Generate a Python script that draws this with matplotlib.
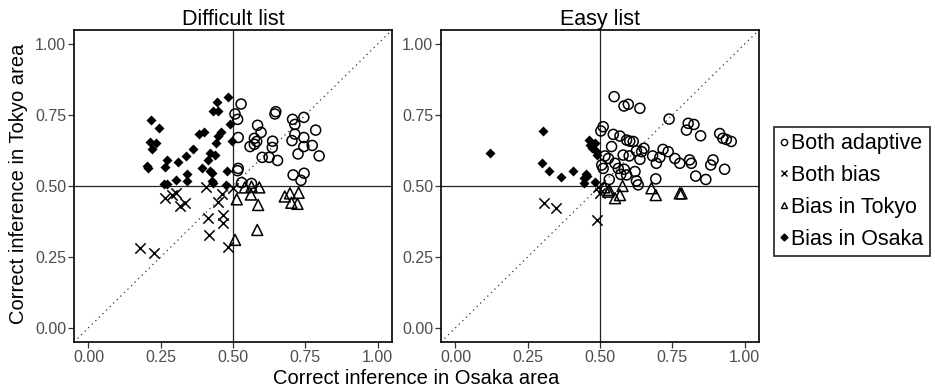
import numpy as np
import matplotlib
matplotlib.use("Agg")
import matplotlib.pyplot as plt
from matplotlib.lines import Line2D

plt.rcParams['font.family'] = ['Liberation Sans', 'DejaVu Sans']

# ---- Difficult list ----
diff_adapt_x = [0.528, 0.507, 0.516, 0.648, 0.645, 0.706, 0.745, 0.714, 0.585, 0.597, 0.786, 0.714,
                0.745, 0.518, 0.574, 0.582, 0.637, 0.704, 0.559, 0.574, 0.636, 0.745, 0.774, 0.725,
                0.798, 0.601, 0.625, 0.654, 0.518, 0.516, 0.708, 0.746, 0.735, 0.530, 0.564]
diff_adapt_y = [0.789, 0.754, 0.735, 0.762, 0.754, 0.735, 0.742, 0.717, 0.714, 0.689, 0.697, 0.683,
                0.671, 0.671, 0.668, 0.657, 0.658, 0.660, 0.639, 0.647, 0.636, 0.639, 0.643, 0.613,
                0.606, 0.601, 0.601, 0.590, 0.562, 0.554, 0.539, 0.545, 0.520, 0.512, 0.509]

diff_both_x = [0.179, 0.228, 0.266, 0.303, 0.290, 0.315, 0.334, 0.407, 0.461, 0.449, 0.415,
               0.464, 0.467, 0.418, 0.482, 0.499]
diff_both_y = [0.281, 0.263, 0.457, 0.476, 0.468, 0.428, 0.441, 0.498, 0.472, 0.445, 0.386,
               0.398, 0.371, 0.328, 0.286, 0.492]

diff_tokyo_x = [0.541, 0.564, 0.591, 0.562, 0.513, 0.587, 0.584, 0.507, 0.679, 0.697, 0.727,
                0.702, 0.723]
diff_tokyo_y = [0.495, 0.498, 0.495, 0.470, 0.453, 0.433, 0.345, 0.310, 0.463, 0.474, 0.476,
                0.441, 0.437]

diff_osaka_x = [0.217, 0.244, 0.214, 0.234, 0.220, 0.204, 0.206, 0.271, 0.266, 0.309, 0.338,
                0.363, 0.382, 0.398, 0.263, 0.272, 0.302, 0.340, 0.342, 0.392, 0.413, 0.482,
                0.444, 0.432, 0.449, 0.490, 0.458, 0.449, 0.440, 0.495, 0.421, 0.438, 0.421,
                0.427, 0.478, 0.427, 0.430, 0.476]
diff_osaka_y = [0.732, 0.705, 0.654, 0.650, 0.630, 0.571, 0.565, 0.592, 0.568, 0.583, 0.606,
                0.629, 0.682, 0.689, 0.507, 0.507, 0.521, 0.541, 0.518, 0.562, 0.590, 0.815,
                0.797, 0.765, 0.765, 0.717, 0.689, 0.675, 0.651, 0.657, 0.615, 0.609, 0.554,
                0.545, 0.554, 0.516, 0.509, 0.504]

# ---- Easy list ----
easy_adapt_x = [0.549, 0.583, 0.598, 0.638, 0.739, 0.805, 0.825, 0.799, 0.848, 0.914, 0.925,
                0.937, 0.954, 0.511, 0.503, 0.546, 0.569, 0.592, 0.603, 0.615, 0.540, 0.652,
                0.626, 0.644, 0.718, 0.736, 0.517, 0.529, 0.580, 0.601, 0.682, 0.707, 0.638,
                0.759, 0.776, 0.810, 0.816, 0.695, 0.891, 0.883, 0.552, 0.563, 0.511, 0.584,
                0.572, 0.592, 0.621, 0.931, 0.831, 0.866, 0.532, 0.626, 0.632, 0.693, 0.506]
easy_adapt_y = [0.815, 0.782, 0.788, 0.774, 0.736, 0.721, 0.717, 0.697, 0.677, 0.685, 0.668,
                0.664, 0.657, 0.709, 0.694, 0.682, 0.676, 0.662, 0.658, 0.657, 0.639, 0.633,
                0.624, 0.621, 0.629, 0.621, 0.606, 0.597, 0.609, 0.606, 0.606, 0.601, 0.594,
                0.597, 0.580, 0.592, 0.580, 0.580, 0.592, 0.574, 0.580, 0.562, 0.562, 0.559,
                0.541, 0.539, 0.551, 0.559, 0.535, 0.523, 0.523, 0.518, 0.504, 0.525, 0.574]

easy_both_x = [0.305, 0.347, 0.491, 0.500, 0.494]
easy_both_y = [0.441, 0.421, 0.380, 0.474, 0.498]

easy_tokyo_x = [0.532, 0.578, 0.678, 0.693, 0.776, 0.782, 0.552, 0.569, 0.529, 0.515]
easy_tokyo_y = [0.486, 0.500, 0.492, 0.468, 0.474, 0.474, 0.457, 0.468, 0.480, 0.495]

easy_osaka_x = [0.118, 0.302, 0.299, 0.324, 0.366, 0.408, 0.451, 0.446, 0.462, 0.466, 0.471,
                0.486, 0.489, 0.483, 0.443, 0.483, 0.455]
easy_osaka_y = [0.617, 0.695, 0.580, 0.553, 0.533, 0.553, 0.542, 0.527, 0.662, 0.644, 0.633,
                0.624, 0.609, 0.515, 0.512, 0.650, 0.535]

ticks = [0.0, 0.25, 0.5, 0.75, 1.0]
tick_labels = ["0.00", "0.25", "0.50", "0.75", "1.00"]
legend_labels = ["Both adaptive", "Both bias", "Bias in Tokyo", "Bias in Osaka"]
lims = (-0.05, 1.05)


def draw_panel(ax, title, ad, bb, tk, os_):
    ax.axhline(0.5, color='#222222', lw=0.9, zorder=1)
    ax.axvline(0.5, color='#222222', lw=0.9, zorder=1)
    ax.plot(lims, lims, color='#333333', lw=0.9, ls=(0, (1, 3)), zorder=1)
    ax.scatter(ad[0], ad[1], s=52, facecolors='none', edgecolors='black', linewidths=1.1, marker='o', zorder=3)
    ax.scatter(bb[0], bb[1], s=55, color='black', linewidths=1.1, marker='x', zorder=3)
    ax.scatter(tk[0], tk[1], s=62, facecolors='none', edgecolors='black', linewidths=1.1, marker='^', zorder=3)
    ax.scatter(os_[0], os_[1], s=26, color='black', marker='D', linewidths=0, zorder=3)
    ax.set_xlim(lims)
    ax.set_ylim(lims)
    ax.set_xticks(ticks)
    ax.set_xticklabels(tick_labels)
    ax.set_yticks(ticks)
    ax.set_yticklabels(tick_labels)
    ax.tick_params(labelsize=11.5, length=4, width=0.9, color='#333333', labelcolor='#4d4d4d', pad=1.5)
    for sp in ax.spines.values():
        sp.set_linewidth(1.2)
        sp.set_color('black')
    ax.set_title(title, fontsize=15.5, pad=1)


fig = plt.figure(figsize=(9.35, 3.89), dpi=100)
ax1 = fig.add_axes([74/935, 47/389, 318/935, 312/389])
ax2 = fig.add_axes([441/935, 47/389, 318/935, 312/389])

draw_panel(ax1, "Difficult list", (diff_adapt_x, diff_adapt_y), (diff_both_x, diff_both_y),
           (diff_tokyo_x, diff_tokyo_y), (diff_osaka_x, diff_osaka_y))
draw_panel(ax2, "Easy list", (easy_adapt_x, easy_adapt_y), (easy_both_x, easy_both_y),
           (easy_tokyo_x, easy_tokyo_y), (easy_osaka_x, easy_osaka_y))

fig.text(416/935, 1 - 378/389, "Correct inference in Osaka area", ha='center', va='center', fontsize=14.5)
fig.text(19/935, 1 - 184/389, "Correct inference in Tokyo area", ha='center', va='center',
         rotation=90, fontsize=14.5)

handles = [
    Line2D([], [], ls='none', marker='o', ms=4.5, mfc='none', mec='black', mew=1.0),
    Line2D([], [], ls='none', marker='x', ms=4.5, color='black', mew=1.0),
    Line2D([], [], ls='none', marker='^', ms=5, mfc='none', mec='black', mew=1.0),
    Line2D([], [], ls='none', marker='D', ms=3.5, color='black'),
]
leg = fig.legend(handles, legend_labels, loc='lower left', bbox_to_anchor=(774/935, 1 - 256/389),
                 fontsize=15.5, frameon=True, fancybox=False, handlelength=0.35, handletextpad=0.15,
                 borderpad=0.3, labelspacing=0.5, borderaxespad=0)
leg.get_frame().set_edgecolor('black')
leg.get_frame().set_linewidth(1.3)

fig.savefig("out.png", dpi=100)
